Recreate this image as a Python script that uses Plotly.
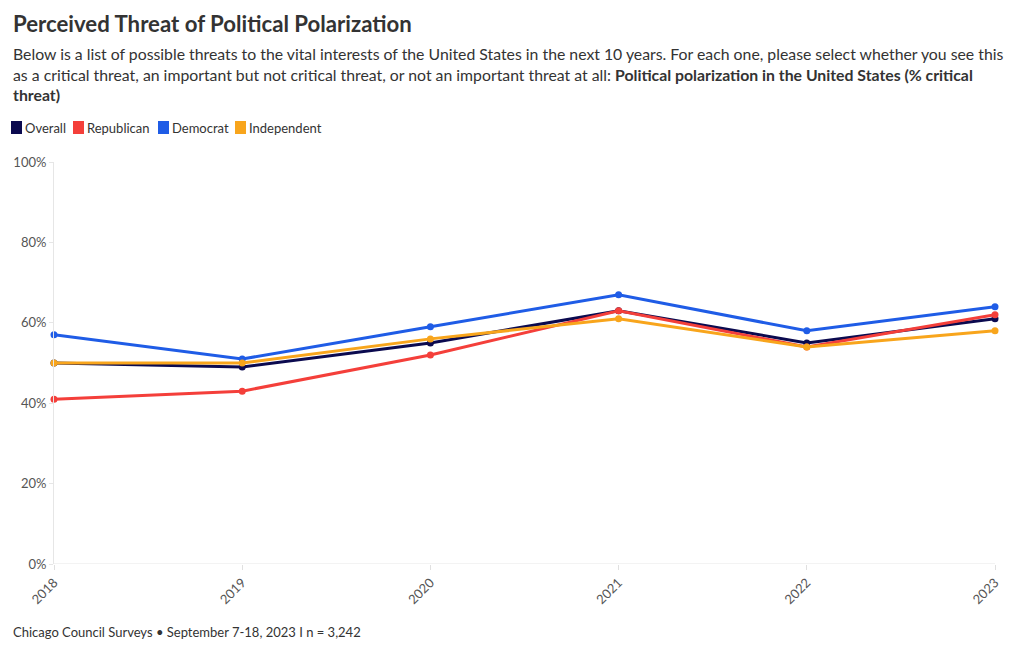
import plotly.graph_objects as go

years = [2018, 2019, 2020, 2021, 2022, 2023]
overall = [50, 49, 55, 63, 55, 61]
republican = [41, 43, 52, 63, 54, 62]
democrat = [57, 51, 59, 67, 58, 64]
independent = [50, 50, 56, 61, 54, 58]

series_names = ["Overall", "Republican", "Democrat", "Independent"]
series_values = [overall, republican, democrat, independent]
colors = ["#0b0a4f", "#f43f3a", "#1f5ce6", "#f8a51c"]

y_ticks = [0, 20, 40, 60, 80, 100]
y_tick_labels = ["0%", "20%", "40%", "60%", "80%", "100%"]

title = "Perceived Threat of Political Polarization"
subtitle = ("Below is a list of possible threats to the vital interests of the United States in the next 10 years. "
            "For each one, please select whether you see this<br>as a critical threat, an important but not critical "
            "threat, or not an important threat at all: <b>Political polarization in the United States (% critical"
            "<br>threat)</b>")
footer = "Chicago Council Surveys • September 7-18, 2023 I n = 3,242"

FONT = "Lato"
OFF = 8  # page body margin
W, H = 1020 - OFF, 650 - OFF
L, T = 54 - OFF, 162 - OFF
R = W - (995 - OFF)
B = H - (564 - OFF)
pw, ph = W - L - R, H - T - B


def to_paper(px, py):
    return (px - OFF - L) / pw, (H - B - (py - OFF)) / ph


fig = go.Figure()
for name, vals, col in zip(series_names, series_values, colors):
    fig.add_trace(go.Scatter(
        x=years, y=vals, name=name, mode="lines+markers",
        line=dict(color=col, width=3), marker=dict(color=col, size=7),
        cliponaxis=False, showlegend=False,
        hovertemplate="%{x}: %{y}%<extra>" + name + "</extra>",
    ))

fig.update_layout(
    width=W, height=H,
    margin=dict(l=L, r=R, t=T, b=B, autoexpand=False),
    paper_bgcolor="white", plot_bgcolor="white",
    font=dict(family=FONT, color="#333333"),
    xaxis=dict(
        range=[2018, 2023], tickvals=years, ticktext=[str(y) for y in years],
        tickangle=-45, showgrid=False, zeroline=False, showline=False, automargin=False,
        ticks="outside", ticklen=5, tickcolor="#e0e0e0",
        tickfont=dict(size=13, color="#555555"),
    ),
    yaxis=dict(
        range=[0, 100], tickvals=y_ticks, ticktext=y_tick_labels, automargin=False,
        showgrid=False, zeroline=False, showline=True, linecolor="#e6e6e6", linewidth=1,
        ticks="outside", ticklen=4, tickcolor="#e6e6e6",
        tickfont=dict(size=13, color="#555555"),
    ),
)

shapes = [dict(type="line", xref="paper", yref="y", x0=0, x1=1, y0=0, y1=0,
               line=dict(color="#e6e6e6", width=1), layer="below")]
annotations = []
x0, y0 = to_paper(11, 24)
annotations.append(dict(text="<b>" + title + "</b>", x=x0, y=y0, xref="paper", yref="paper",
                        xanchor="left", yanchor="middle", showarrow=False,
                        font=dict(size=22.2, color="#333333", family=FONT)))
x0, y0 = to_paper(11, 42)
annotations.append(dict(text=subtitle, x=x0, y=y0, xref="paper", yref="paper",
                        xanchor="left", yanchor="top", align="left", showarrow=False,
                        font=dict(size=15.8, color="#333333", family=FONT)))
x0, y0 = to_paper(11, 632)
annotations.append(dict(text=footer, x=x0, y=y0, xref="paper", yref="paper",
                        xanchor="left", yanchor="middle", showarrow=False,
                        font=dict(size=13, color="#333333", family=FONT)))

legend_x = [11, 73, 158, 235]
for name, col, lx in zip(series_names, colors, legend_x):
    sx0, sy0 = to_paper(lx, 134)
    sx1, sy1 = to_paper(lx + 11, 121)
    shapes.append(dict(type="rect", xref="paper", yref="paper", x0=sx0, x1=sx1, y0=sy0, y1=sy1,
                       fillcolor=col, line=dict(width=0)))
    tx, ty = to_paper(lx + 12, 128)
    annotations.append(dict(text=name, x=tx, y=ty, xref="paper", yref="paper",
                            xanchor="left", yanchor="middle", showarrow=False,
                            font=dict(size=13, color="#333333", family=FONT)))

fig.update_layout(annotations=annotations, shapes=shapes)
fig.write_html("out.html")
